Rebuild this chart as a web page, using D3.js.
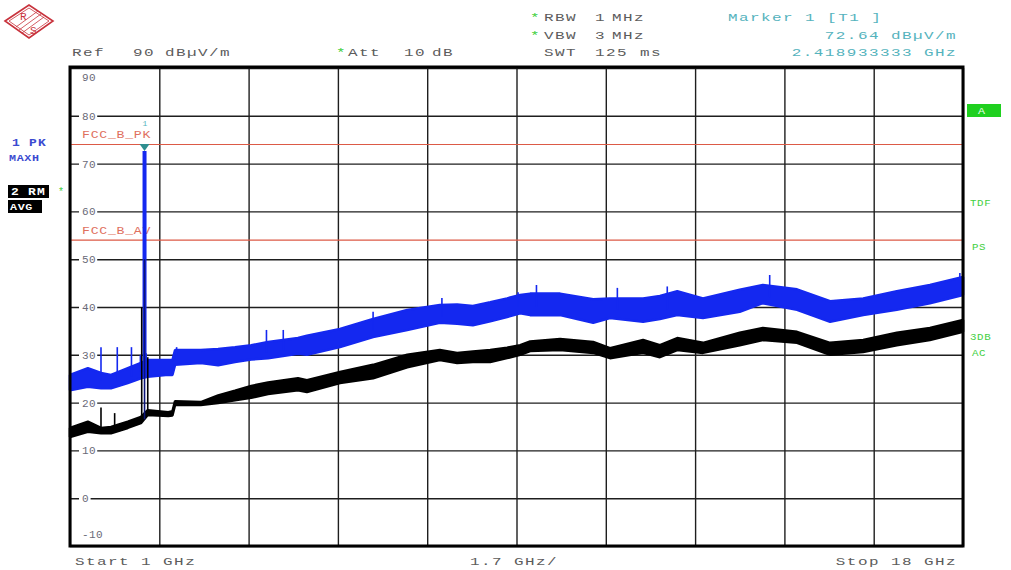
<!DOCTYPE html>
<html>
<head>
<meta charset="utf-8">
<script src="https://cdn.jsdelivr.net/npm/d3@7"></script>
<style>
  body { margin: 0; background: #fff; }
  svg text { font-family: "Liberation Mono", "DejaVu Sans Mono", monospace; }
</style>
</head>
<body>
<div id="chart"></div>
<script>
// frequency points (GHz) where the trace envelopes were read
const freqs = [1.0, 1.34, 1.59, 1.78, 2.10, 2.35, 2.48, 2.87, 2.95, 3.0, 3.49, 3.82, 4.14, 4.45, 4.77, 5.34, 5.51,
  6.14, 6.77, 7.42, 8.04, 8.37, 8.67, 9.0, 9.32, 9.57, 9.76, 10.33, 10.96, 11.28, 11.91, 12.23, 12.56,
  13.05, 13.75, 14.19, 14.84, 15.47, 16.1, 16.74, 17.37, 18.0];

// trace 1 (PK, max hold) upper / lower envelope, dBµV/m
const peakHi = [25.8, 27.2, 26.2, 25.8, 27.2, 28.3, 28.9, 28.9, 28.9, 31.0, 31.0, 31.2, 31.6, 32.0, 32.7, 33.5, 34.0,
  35.4, 37.5, 39.4, 40.4, 40.5, 40.2, 41.0, 41.8, 42.5, 42.8, 42.8, 41.6, 41.8, 41.8, 42.3, 43.3,
  41.8, 43.6, 44.6, 43.7, 41.2, 41.8, 43.3, 44.6, 46.3];
const peakLo = [22.6, 23.3, 23.0, 23.0, 24.1, 25.1, 25.4, 25.8, 25.8, 27.9, 28.3, 27.8, 28.5, 29.0, 29.3, 30.2, 30.0,
  31.6, 33.7, 35.2, 36.7, 36.5, 36.2, 37.0, 37.9, 38.7, 38.3, 38.3, 36.7, 37.7, 36.9, 37.5, 38.3,
  37.7, 39.0, 40.8, 39.4, 36.9, 38.3, 39.4, 40.8, 42.5];

// trace 2 (RM, average) upper / lower envelope, dBµV/m
const avgHi = [14.7, 16.0, 14.7, 14.9, 16.0, 17.0, 18.4, 18.0, 18.2, 20.3, 20.1, 21.5, 22.5, 23.5, 24.2, 25.1, 24.7,
  26.4, 27.9, 30.0, 31.0, 30.4, 30.7, 31.0, 31.5, 32.0, 32.8, 33.3, 32.7, 31.4, 33.1, 32.0, 33.5,
  32.5, 34.6, 35.6, 34.8, 32.5, 33.1, 34.6, 35.6, 37.3];
const avgLo = [12.8, 13.9, 13.6, 13.6, 14.7, 15.7, 17.4, 17.2, 17.3, 19.5, 19.5, 19.9, 20.5, 21.0, 21.8, 22.6, 22.2,
  24.1, 25.1, 27.4, 28.9, 28.3, 28.5, 28.5, 29.3, 30.0, 30.8, 31.0, 30.4, 29.3, 30.4, 29.5, 31.0,
  30.4, 32.0, 33.1, 32.5, 30.0, 30.6, 32.0, 33.1, 34.8];

// narrow spurs sticking out of the traces
const peakSpurFreq = [1.59, 1.90, 2.17, 2.34, 2.45, 3.03, 4.74, 5.06, 6.77, 8.08, 9.53, 9.88, 11.42, 12.37, 14.32, 17.94];
const peakSpurTop = [31.6, 31.6, 31.6, 30.0, 30.3, 31.6, 35.2, 35.2, 39.0, 41.9, 43.1, 44.6, 44.0, 44.3, 46.7, 47.1];
const peakSpurBase = [24.5, 24.5, 25.5, 26.5, 26.5, 29.0, 30.5, 31.0, 35.0, 38.0, 40.0, 40.0, 39.5, 39.5, 42.0, 43.5];
const avgSpurFreq = [1.59, 1.85, 2.365, 2.419, 2.48];
const avgSpurTop = [19.0, 17.8, 40.0, 50.0, 29.5];
const avgSpurBase = [13.8, 14.0, 16.0, 16.5, 17.5];

// carrier + marker 1
const markerFreq = 2.418933333;
const markerLevel = 72.64;
const carrierBase = 26.0;

// limit lines
const limitNames = ["FCC_B_PK", "FCC_B_AV"];
const limitValues = [74, 54];

const yTicks = [-10, 0, 10, 20, 30, 40, 50, 60, 70, 80, 90];
const xTicks = [1, 2.7, 4.4, 6.1, 7.8, 9.5, 11.2, 12.9, 14.6, 16.3, 18];

const W = 1011, H = 570;
const plot = { left: 70, top: 68, right: 963, bottom: 546 };

const svg = d3.select("#chart").append("svg")
  .attr("width", W).attr("height", H)
  .attr("viewBox", `0 0 ${W} ${H}`);

const x = d3.scaleLinear().domain([1, 18]).range([plot.left, plot.right]);
const y = d3.scaleLinear().domain([-10, 90]).range([plot.bottom, plot.top]);

const textColor = "#5c5c5c";
const green = "#3fcf3f";
const teal = "#55b3bd";
const traceBlue = "#1428f0";
const limitRed = "#dc5a46";

// wide, spectrum-analyser style text
function label(px, py, str, color, opts = {}) {
  return svg.append("text")
    .attr("transform", `translate(${px},${py}) scale(${opts.sx || 1.45},1)`)
    .attr("fill", color)
    .attr("font-size", opts.size || 11)
    .attr("letter-spacing", opts.ls == null ? 1 : opts.ls)
    .attr("text-anchor", opts.anchor || "start")
    .attr("font-weight", opts.weight || "normal")
    .text(str);
}

// ---- R&S logo ----
const logo = svg.append("g").attr("stroke", "#c8323c").attr("fill", "none");
logo.append("polygon").attr("points", "5,21 29,5 53,21 29,38").attr("stroke-width", 1.6);
logo.append("polygon").attr("points", "9,21 29,8 49,21 29,35").attr("stroke-width", 0.8);
[-3, 0, 3].forEach(o => {
  logo.append("line").attr("x1", 19 + o).attr("y1", 30 + o).attr("x2", 41 + o).attr("y2", 14 + o)
    .attr("stroke-width", 0.8);
});
svg.append("text").attr("x", 20).attr("y", 20).attr("fill", "#c8323c").attr("font-size", 11).text("R");
svg.append("text").attr("x", 30).attr("y", 34).attr("fill", "#c8323c").attr("font-size", 11).text("S");

// ---- header ----
label(72, 56, "Ref", textColor);
label(133, 56, "90", textColor);
label(165, 56, "dBµV/m", textColor);
label(336, 56, "*", green);
label(348, 56, "Att", textColor);
label(404, 56, "10", textColor);
label(432, 56, "dB", textColor);

label(530, 21, "*", green);
label(544, 21, "RBW", textColor);
label(595, 21, "1", textColor);
label(612, 21, "MHz", textColor);
label(530, 39, "*", green);
label(544, 39, "VBW", textColor);
label(595, 39, "3", textColor);
label(612, 39, "MHz", textColor);
label(544, 56, "SWT", textColor);
label(595, 56, "125", textColor);
label(640, 56, "ms", textColor);

label(728, 21, "Marker 1 [T1 ]", teal);
label(957, 39, "72.64 dBµV/m", teal, { anchor: "end" });
label(957, 56, "2.418933333 GHz", teal, { anchor: "end" });

// ---- footer ----
label(75, 565, "Start 1 GHz", textColor);
label(470, 565, "1.7 GHz/", textColor);
label(957, 565, "Stop 18 GHz", textColor, { anchor: "end" });

// ---- grid ----
svg.append("g")
  .attr("transform", `translate(0,${plot.bottom})`)
  .call(d3.axisBottom(x).tickValues(xTicks).tickSize(-(plot.bottom - plot.top)).tickFormat(""))
  .call(g => g.select(".domain").remove())
  .call(g => g.selectAll("line").attr("stroke", "#1e1e1e").attr("stroke-width", 1.4));

svg.append("g")
  .attr("transform", `translate(${plot.left},0)`)
  .call(d3.axisLeft(y).tickValues(yTicks).tickSize(-(plot.right - plot.left)).tickFormat(""))
  .call(g => g.select(".domain").remove())
  .call(g => g.selectAll("line").attr("stroke", "#1e1e1e").attr("stroke-width", 1.4));

// y labels sit inside the plot with a gap in the grid line
yTicks.forEach(v => {
  let py = y(v) + 4;
  if (v === 90) py = y(v) + 13;
  if (v === -10) py = y(v) - 8;
  const str = String(v);
  if (v !== 90 && v !== -10) {
    svg.append("rect").attr("x", 79).attr("y", y(v) - 3).attr("width", str.length * 6.6 + 5).attr("height", 6)
      .attr("fill", "#fff");
  }
  svg.append("text").attr("x", 82).attr("y", py)
    .attr("fill", "#6a6a78").attr("font-size", 11).attr("letter-spacing", 0.4).text(str);
});

// ---- limit lines ----
limitValues.forEach((v, i) => {
  svg.append("line")
    .attr("x1", plot.left).attr("x2", plot.right)
    .attr("y1", y(v)).attr("y2", y(v))
    .attr("stroke", limitRed).attr("stroke-width", 1.2);
  label(82, y(v) - 6, limitNames[i], "#e0705e", { sx: 1.2, ls: 0.6 });
});

// ---- traces ----
const band = (hi, lo) => d3.area()
  .x((d, i) => x(freqs[i]))
  .y0((d, i) => y(lo[i]))
  .y1((d, i) => y(hi[i]));

// trace 1, peak
svg.append("path").datum(freqs)
  .attr("d", band(peakHi, peakLo))
  .attr("fill", traceBlue).attr("stroke", traceBlue).attr("stroke-width", 2.5)
  .attr("stroke-linejoin", "bevel");
peakSpurFreq.forEach((f, i) => {
  svg.append("line").attr("x1", x(f)).attr("x2", x(f))
    .attr("y1", y(peakSpurBase[i])).attr("y2", y(peakSpurTop[i]))
    .attr("stroke", traceBlue).attr("stroke-width", 1.6);
});
svg.append("line")
  .attr("x1", x(markerFreq)).attr("x2", x(markerFreq))
  .attr("y1", y(carrierBase)).attr("y2", y(markerLevel))
  .attr("stroke", traceBlue).attr("stroke-width", 4);

// trace 2, average
svg.append("path").datum(freqs)
  .attr("d", band(avgHi, avgLo))
  .attr("fill", "#000").attr("stroke", "#000").attr("stroke-width", 2.5)
  .attr("stroke-linejoin", "bevel");
avgSpurFreq.forEach((f, i) => {
  svg.append("line").attr("x1", x(f)).attr("x2", x(f))
    .attr("y1", y(avgSpurBase[i])).attr("y2", y(avgSpurTop[i]))
    .attr("stroke", f === 2.419 ? "#0a1478" : "#000").attr("stroke-width", 1.6);
});

// ---- marker 1 ----
const mx = x(markerFreq), my = y(markerLevel);
svg.append("path")
  .attr("d", `M${mx - 5},${my - 7} L${mx + 5},${my - 7} L${mx},${my} Z`)
  .attr("fill", "#2e8f8f");
svg.append("text").attr("x", mx - 2).attr("y", my - 25)
  .attr("fill", teal).attr("font-size", 8).text("1");

// ---- frame ----
svg.append("rect")
  .attr("x", plot.left).attr("y", plot.top - 1)
  .attr("width", plot.right - plot.left).attr("height", plot.bottom - plot.top + 1)
  .attr("fill", "none").attr("stroke", "#000").attr("stroke-width", 3);

// ---- left side trace info ----
label(12, 146, "1", "#3a4ad0", { sx: 1.3, size: 10, weight: "bold" });
label(29, 146, "PK", "#3a4ad0", { sx: 1.3, size: 10, weight: "bold" });
label(9, 161, "MAXH", "#3a4ad0", { sx: 1.3, size: 9, weight: "bold", ls: 0.5 });
svg.append("rect").attr("x", 8).attr("y", 185).attr("width", 41).attr("height", 13).attr("fill", "#000");
label(11, 195, "2", "#fff", { sx: 1.3, size: 10, weight: "bold" });
label(28, 195, "RM", "#fff", { sx: 1.3, size: 10, weight: "bold" });
label(58, 195, "*", green, { sx: 1, size: 10 });
svg.append("rect").attr("x", 8).attr("y", 200).attr("width", 34).attr("height", 13).attr("fill", "#000");
label(10, 210, "AVG", "#fff", { sx: 1.3, size: 9, weight: "bold", ls: 0.5 });

// ---- right side status ----
svg.append("rect").attr("x", 967).attr("y", 104).attr("width", 34).attr("height", 13).attr("fill", "#1fd01f");
label(978, 114, "A", "#e8ffe8", { sx: 1.3, size: 9 });
label(970, 206, "TDF", green, { sx: 1.2, size: 9, ls: 0.5 });
label(972, 250, "PS", green, { sx: 1.2, size: 9, ls: 0.5 });
label(970, 340, "3DB", green, { sx: 1.2, size: 9, ls: 0.5 });
label(972, 356, "AC", green, { sx: 1.2, size: 9, ls: 0.5 });
</script>
</body>
</html>
